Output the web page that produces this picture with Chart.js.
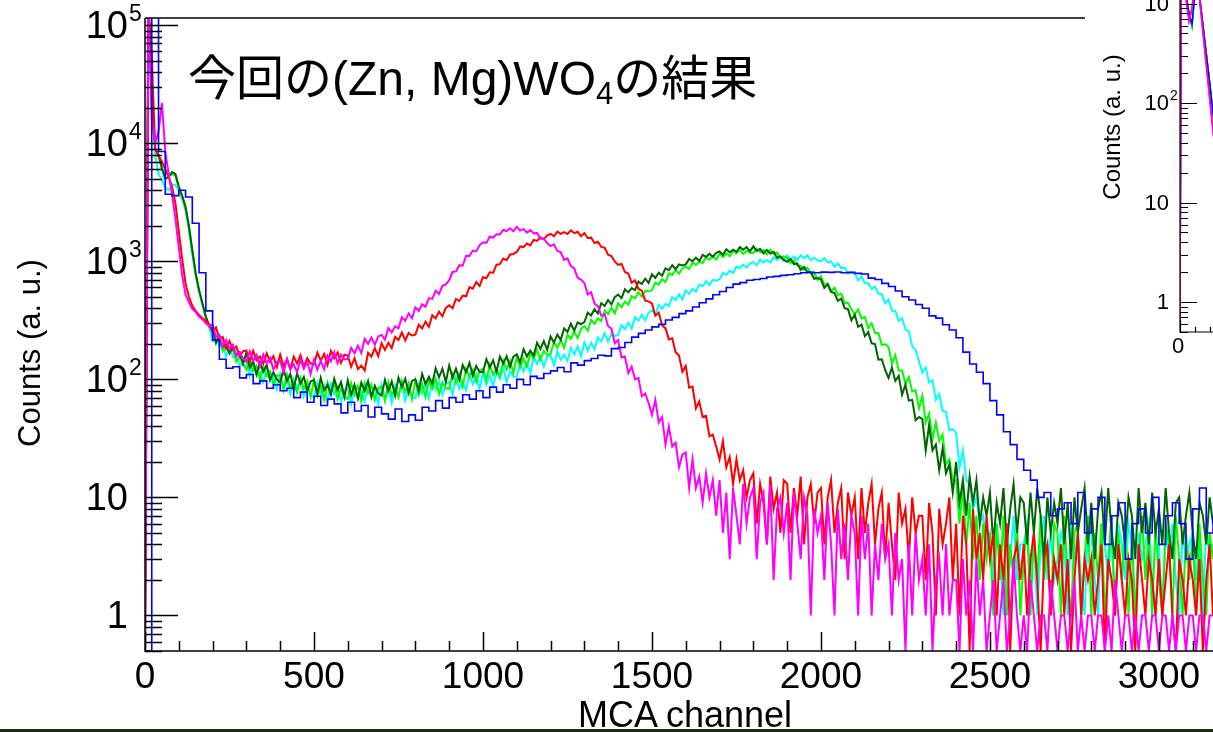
<!DOCTYPE html>
<html>
<head>
<meta charset="utf-8">
<script src="https://cdn.jsdelivr.net/npm/chart.js@4.4.1/dist/chart.umd.min.js"></script>
<style>
  html, body { margin: 0; padding: 0; background: #fff; overflow: hidden; }
  #page { position: relative; width: 1213px; height: 732px; overflow: hidden; background: #fff; }
  #main { position: absolute; left: 0; top: 0; }
  #insetBox { position: absolute; left: 1085px; top: 0; width: 400px; height: 360px; background: #fff; }
  #inset { position: absolute; left: 0; top: 0; }
  .txt { position: absolute; font-family: "Liberation Sans", Arial, sans-serif; color: #000; white-space: nowrap; }
  #title { left: 188px; top: 55px; font-size: 48px; line-height: 48px; font-family: "Liberation Sans", "Noto Sans CJK JP", sans-serif; }
  #title sub { font-size: 31px; vertical-align: -9px; line-height: 0; }
  #xtitle { left: 485px; top: 697px; width: 400px; text-align: center; font-size: 36px; line-height: 36px; }
  #ytitle { left: -120px; top: 335px; width: 300px; text-align: center; font-size: 31px; line-height: 36px; transform: rotate(-90deg); }
  #ytitle2 { left: 1012px; top: 113px; width: 200px; text-align: center; font-size: 24px; line-height: 28px; transform: rotate(-90deg); }
  #bottomBar { position: absolute; left: 0; top: 729px; width: 1213px; height: 3px; background: #1a3010; }
</style>
</head>
<body>
<div id="page">
  <canvas id="main" width="1213" height="732"></canvas>
  <div id="insetBox"><canvas id="inset" width="395" height="360"></canvas></div>
  <div class="txt" id="title">今回の(Zn, Mg)WO<sub>4</sub>の結果</div>
  <div class="txt" id="xtitle">MCA channel</div>
  <div class="txt" id="ytitle">Counts (a. u.)</div>
  <div class="txt" id="ytitle2">Counts (a. u.)</div>
  <div id="bottomBar"></div>
</div>
<script>
// bin widths (MCA channels) of the histograms
const fineBin = 10;
const blueBin = 20;

// counts per 10-channel step, channel 0 .. 3160
const magenta = [
  0, 150000, 16000, 10000, 12500, 22000, 8500, 5500, 3700, 2300,
  1300, 760, 520, 450, 395, 372, 338, 322, 298, 283,
  292, 228, 237, 191, 216, 182, 196, 157, 169, 151,
  142, 173, 144, 161, 127, 162, 137, 152, 121, 140,
  143, 114, 149, 122, 134, 115, 147, 123, 141, 111,
  147, 121, 143, 122, 159, 142, 170, 137, 162, 148,
  148, 185, 167, 193, 167, 220, 200, 226, 196, 231,
  238, 217, 272, 250, 281, 271, 336, 313, 361, 329,
  407, 379, 432, 413, 488, 480, 563, 529, 619, 637,
  691, 815, 818, 927, 917, 1113, 1109, 1232, 1213, 1370,
  1448, 1430, 1616, 1588, 1693, 1684, 1851, 1798, 1902, 1795,
  1955, 1818, 1880, 1747, 1837, 1719, 1740, 1552, 1552, 1425,
  1344, 1390, 1225, 1195, 1026, 1060, 911, 869, 726, 700,
  655, 524, 547, 437, 417, 346, 356, 283, 269, 202,
  215, 153, 156, 113, 128, 100, 103, 72, 76, 63,
  50, 67, 43, 48, 28, 40, 27, 29, 18, 23,
  24, 12, 21, 12, 15, 9, 16, 10, 14, 7,
  14, 5, 11, 3, 12, 7, 4, 13, 6, 10,
  12, 3, 9, 11, 4, 13, 2, 8, 10, 5,
  9, 2, 11, 6, 3, 10, 7, 1, 8, 5,
  7, 2, 9, 4, 1, 8, 3, 6, 2, 7,
  5, 1, 7, 3, 6, 1, 4, 2, 6, 3,
  4, 1, 5, 2, 3, 0, 4, 1, 5, 2,
  3, 1, 4, 0, 2, 3, 1, 4, 1, 2,
  2, 0, 3, 1, 2, 0, 3, 1, 2, 0,
  1, 2, 0, 1, 2, 0, 1, 3, 1, 0,
  1, 0, 2, 1, 0, 1, 1, 0, 2, 1,
  0, 1, 1, 0, 1, 2, 0, 1, 0, 1,
  1, 0, 1, 1, 0, 1, 0, 2, 1, 0,
  1, 1, 0, 1, 0, 1, 1, 0, 1, 1,
  0, 1, 1, 0, 1, 0, 1, 1, 0, 1,
  1, 0, 1, 1, 0, 1, 1
];

const red = [
  0, 150000, 55000, 9000, 7800, 7000, 6000, 5200, 4300, 3100,
  1800, 1050, 650, 500, 420, 380, 350, 330, 312, 292,
  250, 275, 223, 228, 182, 211, 179, 190, 157, 173,
  175, 141, 175, 145, 156, 136, 166, 141, 157, 127,
  162, 129, 148, 122, 156, 136, 160, 128, 151, 136,
  134, 169, 144, 164, 133, 174, 151, 169, 138, 162,
  159, 128, 151, 122, 131, 119, 168, 156, 184, 157,
  202, 177, 204, 184, 229, 215, 249, 214, 247, 235,
  239, 290, 270, 308, 278, 349, 329, 374, 342, 403,
  424, 400, 480, 461, 512, 505, 605, 587, 666, 618,
  735, 719, 806, 798, 936, 946, 1055, 1022, 1141, 1154,
  1200, 1336, 1319, 1413, 1363, 1518, 1488, 1593, 1542, 1660,
  1703, 1632, 1782, 1705, 1764, 1704, 1830, 1729, 1778, 1632,
  1737, 1575, 1585, 1430, 1465, 1324, 1305, 1138, 1109, 996,
  933, 949, 810, 787, 658, 689, 583, 563, 464, 458,
  439, 346, 368, 287, 270, 218, 223, 170, 159, 116,
  130, 85, 87, 57, 65, 48, 49, 33, 34, 27,
  21, 30, 18, 22, 13, 21, 14, 17, 10, 14,
  16, 6, 13, 9, 4, 15, 8, 11, 5, 14,
  13, 5, 12, 7, 15, 4, 10, 13, 6, 11,
  12, 4, 10, 14, 5, 9, 12, 3, 11, 7,
  10, 3, 12, 5, 9, 13, 4, 8, 11, 3,
  9, 4, 2, 11, 6, 8, 3, 10, 5, 7,
  7, 2, 9, 5, 1, 8, 4, 6, 10, 2,
  6, 1, 7, 4, 0, 8, 3, 5, 2, 7,
  3, 5, 1, 4, 2, 6, 0, 3, 4, 2,
  4, 1, 3, 5, 2, 0, 3, 4, 1, 3,
  2, 4, 1, 3, 0, 2, 5, 1, 3, 2,
  3, 1, 2, 4, 0, 3, 2, 1, 4, 2,
  1, 3, 2, 0, 4, 2, 1, 3, 2, 1,
  3, 1, 2, 4, 1, 0, 3, 2, 1, 3,
  2, 1, 3, 0, 2, 4, 1
];

const darkGreen = [
  0, 150000, 30000, 9000, 8000, 6200, 5000, 5200, 5700, 5500,
  4300, 3600, 2900, 2000, 1250, 790, 570, 440, 340, 285,
  262, 203, 233, 189, 194, 166, 191, 160, 170, 135,
  168, 125, 142, 110, 140, 116, 133, 99, 115, 100,
  94, 121, 97, 111, 83, 113, 92, 105, 80, 96,
  99, 75, 103, 81, 90, 74, 101, 81, 95, 71,
  98, 74, 90, 69, 94, 80, 97, 71, 88, 76,
  73, 99, 80, 96, 73, 103, 86, 101, 77, 97,
  100, 80, 111, 91, 105, 92, 124, 104, 123, 95,
  131, 103, 123, 99, 132, 115, 138, 107, 130, 116,
  115, 148, 126, 145, 116, 156, 136, 157, 128, 156,
  163, 139, 180, 156, 175, 159, 204, 181, 211, 178,
  231, 205, 239, 216, 270, 252, 296, 259, 304, 293,
  305, 367, 347, 393, 361, 441, 418, 470, 432, 497,
  523, 488, 579, 545, 593, 571, 674, 641, 713, 656,
  774, 723, 799, 757, 870, 840, 928, 856, 941, 921,
  941, 1045, 1000, 1071, 1007, 1134, 1089, 1159, 1089, 1177,
  1210, 1135, 1264, 1194, 1252, 1200, 1323, 1251, 1320, 1216,
  1339, 1221, 1275, 1164, 1248, 1162, 1202, 1070, 1101, 1028,
  989, 1045, 946, 958, 846, 893, 807, 807, 711, 721,
  704, 595, 638, 550, 537, 463, 482, 401, 393, 316,
  352, 279, 291, 232, 251, 202, 199, 147, 148, 120,
  103, 126, 97, 107, 74, 90, 66, 67, 45, 48,
  46, 25, 41, 25, 28, 17, 26, 16, 19, 11,
  20, 9, 14, 7, 15, 9, 14, 6, 10, 7,
  11, 4, 9, 6, 12, 4, 8, 13, 5, 10,
  9, 4, 11, 5, 12, 7, 3, 10, 5, 9,
  6, 12, 4, 9, 3, 10, 5, 8, 12, 4,
  9, 3, 8, 11, 4, 12, 5, 3, 9, 7,
  4, 10, 7, 3, 12, 5, 9, 4, 11, 5,
  8, 4, 12, 5, 3, 9, 10, 4, 7, 11,
  5, 3, 9, 7, 4, 10, 6
];

const green = [
  0, 150000, 25000, 9000, 8000, 6000, 5000, 5200, 5500, 5300,
  4200, 3500, 2800, 1900, 1200, 770, 560, 430, 335, 280,
  269, 208, 217, 174, 199, 166, 180, 141, 154, 136,
  121, 149, 118, 131, 99, 129, 106, 117, 90, 107,
  109, 81, 110, 85, 94, 77, 103, 83, 96, 71,
  99, 73, 89, 67, 94, 77, 94, 68, 84, 71,
  68, 93, 74, 88, 65, 93, 76, 90, 67, 84,
  87, 66, 94, 74, 84, 70, 97, 78, 93, 68,
  98, 74, 91, 71, 98, 83, 101, 75, 94, 84,
  83, 111, 93, 111, 87, 122, 104, 121, 95, 118,
  123, 99, 133, 109, 123, 106, 143, 121, 144, 113,
  154, 126, 150, 128, 167, 149, 179, 146, 174, 161,
  165, 206, 185, 214, 185, 239, 220, 254, 223, 267,
  282, 258, 320, 296, 328, 312, 382, 356, 406, 362,
  441, 407, 456, 428, 505, 485, 547, 501, 563, 554,
  571, 659, 634, 704, 667, 790, 766, 839, 785, 870,
  902, 860, 972, 931, 990, 965, 1076, 1029, 1102, 1031,
  1160, 1086, 1168, 1102, 1222, 1172, 1254, 1154, 1226, 1181,
  1171, 1277, 1196, 1251, 1145, 1250, 1158, 1185, 1065, 1101,
  1076, 964, 1024, 921, 919, 840, 882, 793, 797, 698,
  749, 632, 648, 558, 597, 519, 532, 440, 446, 393,
  357, 391, 328, 337, 271, 299, 247, 247, 195, 199,
  188, 136, 160, 119, 119, 92, 105, 79, 81, 57,
  73, 43, 51, 31, 43, 30, 34, 19, 21, 14,
  14, 6, 12, 4, 9, 3, 7, 2, 6, 3,
  5, 1, 6, 2, 7, 1, 4, 2, 6, 1,
  3, 6, 1, 5, 2, 7, 2, 4, 1, 6,
  5, 1, 7, 2, 1, 5, 6, 1, 3, 7,
  1, 5, 2, 6, 1, 3, 7, 1, 5, 2,
  6, 1, 5, 1, 3, 7, 2, 5, 1, 6,
  2, 1, 6, 4, 1, 7, 3, 1, 5, 2,
  5, 1, 6, 2, 1, 5, 3
];

const cyan = [
  0, 150000, 20000, 8000, 5500, 4900, 4200, 4000, 4500, 4400,
  4000, 3400, 2700, 1850, 1150, 760, 560, 430, 335, 272,
  212, 235, 189, 198, 156, 183, 154, 162, 130, 143,
  142, 107, 137, 108, 115, 95, 121, 97, 111, 83,
  112, 83, 98, 75, 101, 83, 99, 72, 87, 75,
  70, 94, 74, 88, 65, 92, 75, 87, 65, 81,
  84, 62, 88, 69, 79, 65, 90, 72, 86, 62,
  90, 67, 83, 63, 89, 74, 91, 66, 82, 71,
  69, 93, 76, 90, 69, 98, 82, 96, 74, 92,
  95, 74, 104, 83, 95, 81, 111, 91, 110, 82,
  116, 90, 109, 87, 118, 101, 124, 95, 117, 105,
  105, 136, 117, 138, 113, 154, 135, 156, 128, 156,
  160, 132, 172, 146, 162, 143, 185, 162, 190, 156,
  205, 175, 205, 180, 227, 209, 246, 209, 245, 232,
  238, 288, 266, 301, 269, 336, 314, 353, 316, 366,
  385, 353, 427, 396, 435, 417, 499, 468, 526, 475,
  567, 529, 584, 553, 635, 614, 680, 629, 696, 686,
  706, 794, 769, 834, 793, 903, 876, 937, 883, 959,
  984, 926, 1035, 975, 1020, 979, 1082, 1024, 1087, 1007,
  1118, 1033, 1097, 1026, 1125, 1064, 1123, 1020, 1071, 1019,
  998, 1066, 975, 999, 898, 961, 876, 885, 788, 807,
  788, 691, 743, 655, 653, 581, 610, 530, 526, 442,
  475, 382, 382, 313, 330, 265, 255, 190, 178, 143,
  114, 126, 94, 98, 67, 75, 54, 53, 37, 38,
  35, 18, 25, 14, 13, 8, 10, 6, 7, 4,
  5, 2, 6, 3, 1, 5, 3, 7, 2, 4,
  4, 6, 2, 5, 1, 4, 7, 2, 5, 2,
  3, 5, 4, 1, 6, 3, 5, 2, 1, 6,
  5, 2, 1, 6, 4, 2, 5, 1, 6, 4,
  2, 6, 4, 1, 5, 3, 4, 6, 2, 1,
  4, 1, 5, 3, 6, 2, 1, 5, 3, 4,
  5, 2, 4, 1, 6, 3, 4
];

// blue histogram: 20-channel bins, value stored at each bin's upper edge (0 .. 3160)
const blue = [
  0, 120000, 8500, 3700, 3600, 4000, 3500, 2100, 800, 380, 215,
  148, 124, 128, 103, 110, 92, 97, 84, 90, 80,
  84, 70, 78, 64, 72, 60, 68, 62, 52, 64,
  54, 60, 48, 58, 51, 46, 56, 44, 50, 45,
  58, 54, 66, 57, 70, 64, 74, 68, 80, 70,
  86, 78, 90, 84, 100, 90, 106, 102, 112, 118,
  126, 116, 138, 132, 144, 150, 160, 158, 182, 186,
  205, 228, 245, 262, 278, 292, 318, 335, 360, 380,
  410, 445, 480, 520, 555, 600, 640, 660, 690, 700,
  715, 735, 745, 760, 770, 785, 800, 805, 800, 810,
  805, 812, 800, 806, 790, 780, 720, 700, 650, 612,
  560, 500, 470, 430, 400, 345, 330, 290, 262, 225,
  170, 135, 115, 92, 66, 50, 36, 28, 21, 17,
  14, 10, 11, 7, 8,
  9, 6, 11, 5, 8, 10, 4, 7, 9, 3, 6, 8, 5, 10, 4, 7, 9, 6, 3, 8, 12, 5, 7
];

// axis ticks of the main plot
const yTickValues = [1, 10, 100, 1000, 10000, 100000];
const yTickLabels = ['1', '10', '10^2', '10^3', '10^4', '10^5'];
const xTickValues = [0, 500, 1000, 1500, 2000, 2500, 3000];
const xTickLabels = ['0', '500', '1000', '1500', '2000', '2500', '3000'];

// the small neighbouring plot cut off at the right edge
const insetChannels = [0, 10, 30, 60, 80, 110, 130, 200, 220, 260, 320];
const insetRed = [0, 100000, 1500, 680, 900, 2500, 1150, 107, 54, 20, 6];
const insetMagenta = [0, 100000, 1400, 650, 870, 2400, 1100, 100, 50, 18, 5];
const insetGreen = [0, 100000, 1500, 800, 580, 2000, 1200, 150, 79, 30, 8];
const insetDarkGreen = [0, 100000, 1500, 820, 600, 2000, 1220, 152, 80, 31, 8];
const insetBlue = [0, 100000, 1500, 780, 620, 1900, 1180, 148, 78, 30, 8];
const insetCyan = [0, 100000, 1450, 760, 600, 1900, 1150, 145, 76, 29, 8];
const insetYTickValues = [1, 10, 100, 1000];
const insetYTickLabels = ['1', '10', '10^2', '10^3'];
const insetXTickValues = [0];
const insetXTickLabels = ['0'];

function binned(values, width) {
  return values.map((v, i) => ({ x: i * width, y: v }));
}
function paired(xs, ys) {
  return xs.map((x, i) => ({ x: x, y: ys[i] }));
}

// ROOT-like frame: inward ticks, log decades with minor ticks, 10^n labels
const rootFrame = {
  id: 'rootFrame',
  afterDatasetsDraw(chart, args, o) {
    const ctx = chart.ctx, a = chart.chartArea;
    const xs = chart.scales.x, ys = chart.scales.y;
    ctx.save();
    ctx.strokeStyle = '#000';
    ctx.lineWidth = o.lineWidth;
    ctx.beginPath();
    ctx.moveTo(a.left, a.top);
    ctx.lineTo(a.left, a.bottom);
    ctx.lineTo(a.right, a.bottom);
    if (o.topLine) {
      ctx.moveTo(a.left, a.top);
      ctx.lineTo(a.right, a.top);
    }
    // y ticks
    const d0 = Math.floor(Math.log10(ys.min)), d1 = Math.ceil(Math.log10(ys.max));
    for (let d = d0; d <= d1; d++) {
      for (let m = 1; m <= 9; m++) {
        const v = m * Math.pow(10, d);
        if (v < ys.min || v > ys.max) continue;
        const py = Math.round(ys.getPixelForValue(v)) + 0.5;
        ctx.moveTo(a.left, py);
        ctx.lineTo(a.left + (m === 1 ? o.yMajor : o.yMinor), py);
      }
    }
    // x ticks
    for (let v = xs.min; v <= xs.max; v += o.xMinorStep) {
      const px = Math.round(xs.getPixelForValue(v)) + 0.5;
      ctx.moveTo(px, a.bottom);
      ctx.lineTo(px, a.bottom - (v % o.xMajorStep === 0 ? o.xMajor : o.xMinor));
    }
    ctx.stroke();

    // labels
    ctx.fillStyle = '#000';
    ctx.textBaseline = 'middle';
    o.yValues.forEach((v, i) => {
      const py = ys.getPixelForValue(v) + o.yLabelShift;
      const parts = o.yLabels[i].split('^');
      ctx.font = o.yFont + 'px "Liberation Sans", Arial, sans-serif';
      ctx.textAlign = 'right';
      ctx.fillText(parts[0], o.yLabelX, py);
      if (parts[1]) {
        ctx.font = o.expFont + 'px "Liberation Sans", Arial, sans-serif';
        ctx.textAlign = 'left';
        ctx.fillText(parts[1], o.yLabelX + 1, py - o.expRise);
      }
    });
    ctx.font = o.xFont + 'px "Liberation Sans", Arial, sans-serif';
    ctx.textAlign = 'center';
    ctx.textBaseline = 'top';
    o.xValues.forEach((v, i) => {
      ctx.fillText(o.xLabels[i], xs.getPixelForValue(v) + o.xLabelShift, a.bottom + o.xLabelGap);
    });
    ctx.restore();
  }
};

function seriesLine(label, values, width, color, order, lw) {
  return {
    label: label,
    data: binned(values, width),
    borderColor: color,
    borderWidth: lw,
    pointRadius: 0,
    tension: 0,
    order: order
  };
}

const mainSets = [
  Object.assign(seriesLine('blue', blue, blueBin, '#0000ff', 0, 1.6), { stepped: 'before' }),
  seriesLine('magenta', magenta, fineBin, '#ff00ff', 1, 2),
  seriesLine('red', red, fineBin, '#ff0000', 2, 2),
  seriesLine('dark green', darkGreen, fineBin, '#006400', 3, 2),
  seriesLine('green', green, fineBin, '#00ff00', 4, 2),
  seriesLine('cyan', cyan, fineBin, '#00ffff', 5, 2)
];

new Chart(document.getElementById('main'), {
  type: 'line',
  data: { datasets: mainSets },
  options: {
    responsive: false,
    animation: false,
    parsing: false,
    layout: { padding: { left: 145, top: 18, right: 0, bottom: 81 } },
    scales: {
      x: { type: 'linear', min: 0, max: 3160, display: false },
      y: { type: 'logarithmic', min: 0.5, max: 115000, display: false }
    },
    plugins: {
      legend: { display: false },
      tooltip: { enabled: false },
      rootFrame: {
        lineWidth: 1.5, topLine: true,
        yMajor: 33, yMinor: 17, xMajor: 19, xMinor: 10,
        xMinorStep: 100, xMajorStep: 500,
        yValues: yTickValues, yLabels: yTickLabels,
        xValues: xTickValues, xLabels: xTickLabels,
        yFont: 38, expFont: 23, expRise: 13, yLabelX: 128, yLabelShift: 2,
        xFont: 37, xLabelGap: 8, xLabelShift: 0
      }
    }
  },
  plugins: [rootFrame]
});

function insetLine(label, ys, color, order) {
  return { label: label, data: paired(insetChannels, ys), borderColor: color, borderWidth: 1.5, pointRadius: 0, tension: 0, order: order };
}

new Chart(document.getElementById('inset'), {
  type: 'line',
  data: {
    datasets: [
      insetLine('magenta', insetMagenta, '#ff00ff', 0),
      insetLine('red', insetRed, '#ff0000', 1),
      insetLine('blue', insetBlue, '#0000ff', 2),
      insetLine('cyan', insetCyan, '#00ffff', 3),
      insetLine('dark green', insetDarkGreen, '#006400', 4),
      insetLine('green', insetGreen, '#00ff00', 5)
    ]
  },
  options: {
    responsive: false,
    animation: false,
    parsing: false,
    layout: { padding: { left: 95, top: 0, right: 0, bottom: 28 } },
    scales: {
      x: { type: 'linear', min: 0, max: 2000, display: false },
      y: { type: 'logarithmic', min: 0.5, max: 1085, display: false }
    },
    plugins: {
      legend: { display: false },
      tooltip: { enabled: false },
      rootFrame: {
        lineWidth: 1.2, topLine: false,
        yMajor: 17, yMinor: 8, xMajor: 12, xMinor: 5,
        xMinorStep: 100, xMajorStep: 500,
        yValues: insetYTickValues, yLabels: insetYTickLabels,
        xValues: insetXTickValues, xLabels: insetXTickLabels,
        yFont: 22, expFont: 14, expRise: 8, yLabelX: 84, yLabelShift: 1,
        xFont: 22, xLabelGap: 4, xLabelShift: -2
      }
    }
  },
  plugins: [rootFrame]
});
</script>
</body>
</html>
